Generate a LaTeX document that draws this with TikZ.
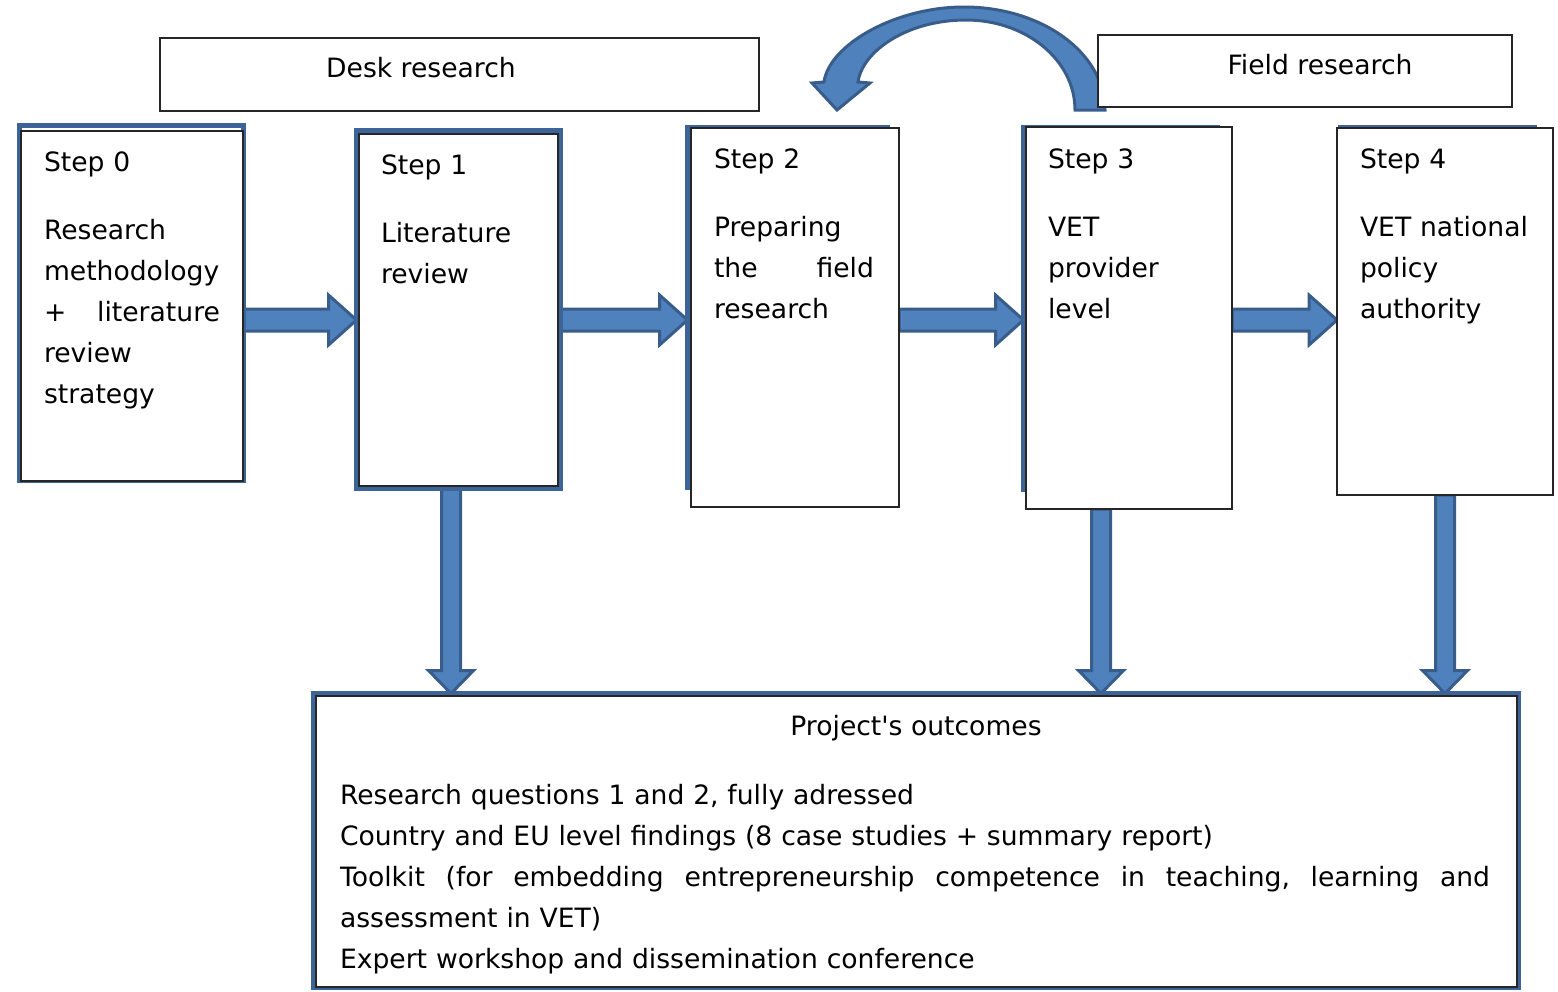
\documentclass[tikz,border=0pt]{standalone}
\usepackage{fontspec}
\setmainfont{DejaVu Sans}
\usetikzlibrary{calc,backgrounds}

\definecolor{arrowfill}{RGB}{79,129,189}
\definecolor{arrowline}{RGB}{56,93,138}
\definecolor{framecol}{RGB}{60,100,152}

\tikzset{
	stepframe/.style={draw=framecol,line width=2.5pt,inner sep=0,outer sep=0},
	stepbox/.style={draw=black!85,fill=white,line width=0.6pt,inner sep=0,outer sep=0},
	steptext/.style={anchor=base west,align=left,inner sep=0,outer sep=0},
	blockarrow/.style={draw=arrowline,fill=arrowfill,line width=1.5pt,line join=miter},
}

% straight block arrow between two points
\newcommand\shafthalf{5.5pt}
\newcommand\headhalf{12.5pt}
\newcommand\headlen{14pt}
\newcommand\blockarrow[2]{%
	\path (#1) coordinate (ba0) (#2) coordinate (ba1);
	\path ($(ba1)!\headlen!(ba0)$) coordinate (bah);
	\filldraw[blockarrow] ($(ba0)!\shafthalf!90:(ba1)$) -- ($(bah)!\shafthalf!-90:(ba0)$) -- ($(bah)!\headhalf!-90:(ba0)$) -- (ba1) -- ($(bah)!\headhalf!90:(ba0)$) -- ($(bah)!\shafthalf!90:(ba0)$) -- ($(ba0)!\shafthalf!-90:(ba1)$) -- cycle;
}

\begin{document}
\begin{tikzpicture}[x=0.5pt,y=-0.5pt,font=\fontsize{13.3pt}{20.5pt}\selectfont]
	\useasboundingbox (0,0) rectangle (1558,991);

	% research type headers
	\node[stepbox,minimum width=299.5pt,minimum height=36.5pt] (desk) at (459.5,74.5) {};
	\node[anchor=base,inner sep=0] (desktxt) at (421,77) {Desk research};
	\node[stepbox,minimum width=207pt,minimum height=36pt] (field) at (1305,71) {};
	\node[anchor=base,inner sep=0] (fieldtxt) at (1320,74) {Field research};

	% steps
	\node[stepframe,minimum width=112pt,minimum height=177.5pt] (f0) at (131.5,303) {};
	\node[stepbox,minimum width=111pt,minimum height=175pt] (s0) at (132,306) {};
	\node[steptext,text width=88pt] (t0) at (44,171) {Step 0\\[13.5pt]Research\\methodology\\+\hfill literature\\review\\strategy};

	\node[stepframe,minimum width=102pt,minimum height=179pt] (f1) at (458.5,309.5) {};
	\node[stepbox,minimum width=99.5pt,minimum height=176pt] (s1) at (458.5,310) {};
	\node[steptext,text width=80pt] (t1) at (381,174) {Step 1\\[13.5pt]Literature\\review};

	\node[stepframe,minimum width=100pt,minimum height=180pt] (f2) at (787.5,307.5) {};
	\node[stepbox,minimum width=104pt,minimum height=189.5pt] (s2) at (795,317.5) {};
	\node[steptext,text width=80pt] (t2) at (714,168) {Step 2\\[13.5pt]Preparing\\the\hfill field\\research};

	\node[stepframe,minimum width=97pt,minimum height=181pt] (f3) at (1120.5,308.5) {};
	\node[stepbox,minimum width=103pt,minimum height=191pt] (s3) at (1129,318) {};
	\node[steptext,text width=80pt] (t3) at (1048,168) {Step 3\\[13.5pt]VET\\provider\\level};

	\node[stepframe,minimum width=97pt,minimum height=180pt] (f4) at (1437.5,307.5) {};
	\node[stepbox,minimum width=108pt,minimum height=183.5pt] (s4) at (1445,311.5) {};
	\node[steptext,text width=90pt] (t4) at (1360,168) {Step 4\\[13.5pt]VET national\\policy\\authority};

	% outcomes
	\node[stepframe,minimum width=602.5pt,minimum height=147pt] (fo) at (916,840.5) {};
	\node[stepbox,minimum width=600.5pt,minimum height=145.5pt] (so) at (916.5,841.5) {};
	\node[anchor=base,inner sep=0] (titleo) at (916,735) {Project\textquotesingle s outcomes};
	\node[steptext,text width=575pt] (to) at (340,804) {Research questions 1 and 2, fully adressed\\
		Country and EU level findings (8 case studies + summary report)\\
		\leavevmode\hbox to 575pt{Toolkit\hfill (for\hfill embedding\hfill entrepreneurship\hfill competence\hfill in\hfill teaching,\hfill learning\hfill and}\\
		assessment in VET)\\
		Expert workshop and dissemination conference};

	\begin{scope}[on background layer]
		% loop back from field research to step 2
		\filldraw[blockarrow] (1105,110) .. controls (1105,53) and (1042,7) .. (964,7) .. controls (895,7) and (829,45) .. (824,82) -- (812,83) -- (837,110) -- (870,83) -- (858,82) .. controls (862,52) and (906,20) .. (966,20) .. controls (1026,20) and (1075,60) .. (1075,110) -- cycle;

		\coordinate (row) at (0,320);
		\blockarrow{f0.east |- row}{f1.west |- row}
		\blockarrow{f1.east |- row}{f2.west |- row}
		\blockarrow{s2.east |- row}{f3.west |- row}
		\blockarrow{s3.east |- row}{s4.west |- row}

		\renewcommand\shafthalf{4.75pt}
		\renewcommand\headhalf{11.25pt}
		\renewcommand\headlen{11.5pt}
		\coordinate (d1) at ([xshift=-3.75pt]f1.south);
		\blockarrow{d1}{d1 |- fo.north}
		\coordinate (d3) at ([xshift=-14pt]s3.south);
		\blockarrow{d3}{d3 |- fo.north}
		\blockarrow{s4.south}{s4.south |- fo.north}
	\end{scope}
\end{tikzpicture}
\end{document}
